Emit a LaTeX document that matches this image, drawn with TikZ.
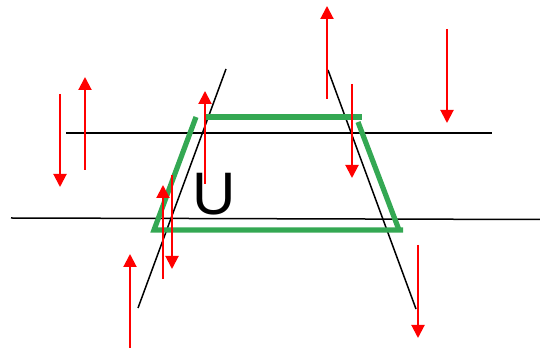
\documentclass[tikz,border=0pt]{standalone}
\usepackage{fontspec}
\setmainfont{Liberation Sans}
\usetikzlibrary{arrows.meta}
\definecolor{leafgreen}{RGB}{52,168,83}

\tikzset{
  guide/.style={black,line width=0.75pt},
  frame/.style={leafgreen,line width=2.6pt},
  force/.style={red,line width=1pt,-{Triangle[width=6.5pt,length=6.5pt]}}
}

\begin{document}
\begin{tikzpicture}[x=0.5pt,y=-0.5pt]
  \useasboundingbox (0,0) rectangle (540,351);
  % black guide lines
  \draw[guide] (66,133)--(492,133);
  \draw[guide] (11,218)--(540,219.5);
  \draw[guide] (226,69)--(138,308);
  \draw[guide] (328,70)--(416,309);
  % green outline
  \draw[frame] (206,117)--(362,117);
  \draw[frame] (196,117)--(154,230)--(403,230);
  \draw[frame] (358,122)--(399,230);
  % red arrows: start/tip
  \foreach \x/\ya/\yb in {60/94/187, 85/170/77, 205/184/91, 327/99/6,
                         447/29/123, 352/84/178, 163/279/185, 172/175/269,
                         130/348/254, 418/245/338}
    \draw[force] (\x,\ya)--(\x,\yb);
  \node[anchor=base,inner sep=0pt,font=\fontsize{30}{30}\selectfont]
    (label) at (214.5,215) {U};
\end{tikzpicture}
\end{document}
